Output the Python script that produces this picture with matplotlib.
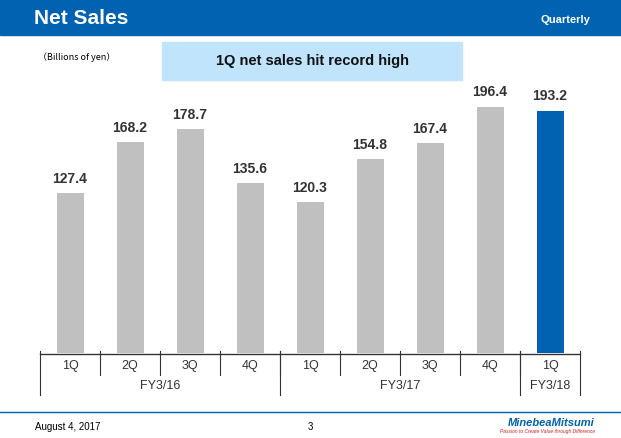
import matplotlib.pyplot as plt
from matplotlib.lines import Line2D
from matplotlib.patches import Rectangle

quarters = ['1Q', '2Q', '3Q', '4Q', '1Q', '2Q', '3Q', '4Q', '1Q']
sales = [127.4, 168.2, 178.7, 135.6, 120.3, 154.8, 167.4, 196.4, 193.2]
groups = ['FY3/16', 'FY3/17', 'FY3/18']
group_sizes = [4, 4, 1]

W, H = 621, 438
fig = plt.figure(figsize=(W / 100, H / 100), dpi=100)
plt.rcParams['font.family'] = 'Liberation Sans'

def fx(x): return x / W
def fy(y): return 1 - y / H

def hline(x0, x1, y, c='#333333', lw=1):
    fig.add_artist(Line2D([fx(x0), fx(x1)], [fy(y), fy(y)], color=c, lw=lw))

def vline(x, y0, y1, c='#333333', lw=0.8):
    fig.add_artist(Line2D([fx(x), fx(x)], [fy(y0), fy(y1)], color=c, lw=lw))

# header
fig.add_artist(Rectangle((0, fy(35)), 1, 35 / H, color='#0062b1', transform=fig.transFigure))
fig.text(fx(34), fy(18), 'Net Sales', color='white', fontsize=15, fontweight='bold', va='center')
fig.text(fx(590), fy(20), 'Quarterly', color='white', fontsize=8, fontweight='bold', va='center', ha='right')
fig.add_artist(Rectangle((fx(162), fy(80)), 300 / W, 38 / H, color='#bfe4fb', transform=fig.transFigure))
fig.text(fx(312), fy(61), '1Q net sales hit record high', fontsize=10.5, fontweight='bold', ha='center', va='center', color='#111111')
fig.text(fx(38), fy(57), '（Billions of yen）', fontsize=6.5, va='center', fontfamily='Noto Sans CJK JP')

# bars
ax = fig.add_axes([fx(40), fy(353), 540 / W, 273 / H])
x = list(range(len(sales)))
colors = ['#c0c0c0'] * 8 + ['#0062b1']
ax.bar(x, sales, width=0.45, color=colors)
for xi, v in zip(x, sales):
    ax.text(xi, v + 6, f'{v:.1f}', ha='center', va='bottom', fontsize=10, fontweight='bold', color='#333333')
ax.set_xlim(-0.5, len(sales) - 0.5)
ax.set_ylim(0, 273 / 1.2526)
ax.axis('off')

# category table
hline(40, 580, 354)
for i, q in enumerate(quarters):
    fig.text(fx(70 + 60 * i), fy(366), q, ha='center', va='center', fontsize=9, color='#333333')
    if i > 0:
        vline(40 + 60 * i, 351, 375)
start = 0
for g, n in zip(groups, group_sizes):
    vline(40 + 60 * start, 351, 395)
    fig.text(fx(40 + 60 * (start + n / 2)), fy(386), g, ha='center', va='center', fontsize=9, color='#333333')
    start += n
vline(580, 351, 395)

# footer
hline(0, W, 412, c='#0062b1', lw=1)
fig.text(fx(35), fy(427), 'August 4, 2017', fontsize=7, va='center')
fig.text(fx(310), fy(427), '3', fontsize=7, va='center', ha='center')
fig.text(fx(595), fy(423), 'MinebeaMitsumi', fontsize=8, fontweight='bold', style='italic', color='#0062b1', ha='right', va='center')
fig.text(fx(595), fy(432), 'Passion to Create Value through Difference', fontsize=3.5, style='italic', color='#d02020', ha='right', va='center')

fig.savefig('out.png', dpi=100)
